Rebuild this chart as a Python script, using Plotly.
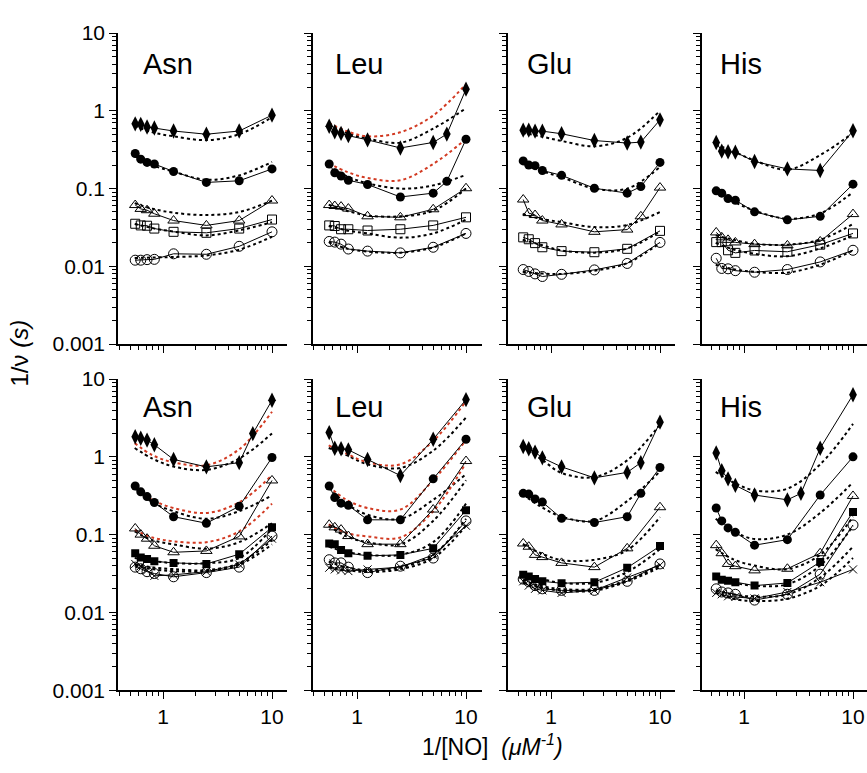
import plotly.graph_objects as go

W, H = 867, 773

# ---------------- data ----------------
X8 = [0.556, 0.625, 0.714, 0.833, 1.25, 2.5, 5, 10]
X9 = [0.556, 0.625, 0.714, 0.833, 1.25, 2.5, 5, 6.67, 10]
X9H = [0.556, 0.625, 0.714, 0.833, 1.25, 2.5, 3.33, 5, 10]
FX = [0.55, 0.8, 1.25, 2.5, 5, 10]

panel_names = ["Asn", "Leu", "Glu", "His", "Asn", "Leu", "Glu", "His"]

# --- top row ---
asn1_dia = [0.68, 0.67, 0.62, 0.60, 0.55, 0.50, 0.55, 0.88]
asn1_cir = [0.283, 0.239, 0.217, 0.207, 0.166, 0.12, 0.126, 0.179]
asn1_tri = [0.0614, 0.0548, 0.0527, 0.0475, 0.0388, 0.0336, 0.0388, 0.0702]
asn1_sq = [0.0353, 0.0336, 0.0333, 0.0306, 0.0278, 0.027, 0.0306, 0.04]
asn1_oc = [0.012, 0.012, 0.0122, 0.0123, 0.0145, 0.0143, 0.0181, 0.0278]
asn1_fit_dia = [0.64, 0.53, 0.47, 0.42, 0.50, 0.83]
asn1_fit_cir = [0.26, 0.2, 0.165, 0.13, 0.148, 0.22]
asn1_fit_tri = [0.065, 0.055, 0.049, 0.0457, 0.05, 0.07]
asn1_fit_sq = [0.035, 0.031, 0.028, 0.025, 0.029, 0.037]
asn1_fit_oc = [0.0128, 0.013, 0.0132, 0.0138, 0.0164, 0.024]

leu1_dia = [0.632, 0.537, 0.512, 0.479, 0.423, 0.333, 0.392, 0.502, 1.90]
leu1_cir = [0.207, 0.16, 0.145, 0.128, 0.113, 0.078, 0.0874, 0.124, 0.431]
leu1_tri = [0.0614, 0.0597, 0.0586, 0.0553, 0.044, 0.0427, 0.0542, 0.101]
leu1_sq = [0.0336, 0.033, 0.030, 0.030, 0.0289, 0.030, 0.0336, 0.0427]
leu1_oc = [0.0209, 0.0205, 0.0193, 0.0167, 0.0157, 0.0149, 0.0176, 0.0265]
leu1_red_dia = [0.70, 0.55, 0.47, 0.53, 0.87, 2.21]
leu1_fit_dia = [0.68, 0.52, 0.44, 0.39, 0.59, 1.08]
leu1_red_cir = [0.213, 0.165, 0.137, 0.128, 0.207, 0.435]
leu1_fit_cir = [0.197, 0.145, 0.117, 0.10, 0.11, 0.15]
leu1_fit_tri = [0.062, 0.052, 0.045, 0.044, 0.052, 0.1]
leu1_fit_sq = [0.033, 0.029, 0.0265, 0.0234, 0.0265, 0.04]
leu1_fit_oc = [0.0205, 0.017, 0.0155, 0.015, 0.0175, 0.0265]

glu1_dia = [0.564, 0.564, 0.548, 0.548, 0.507, 0.415, 0.385, 0.396, 0.765]
glu1_cir = [0.227, 0.201, 0.197, 0.171, 0.148, 0.101, 0.0874, 0.106, 0.217]
glu1_tri = [0.0723, 0.0484, 0.0457, 0.0388, 0.0346, 0.0278, 0.0297, 0.044, 0.103]
glu1_sq = [0.0236, 0.0223, 0.0199, 0.0176, 0.0157, 0.0152, 0.0168, 0.0286]
glu1_oc = [0.0091, 0.0086, 0.0080, 0.0074, 0.0079, 0.009, 0.0109, 0.0203]
glu1_fit_dia = [0.52, 0.47, 0.41, 0.35, 0.45, 1.0]
glu1_fit_cir = [0.21, 0.17, 0.14, 0.1, 0.1, 0.19]
glu1_fit_tri = [0.047, 0.041, 0.037, 0.032, 0.034, 0.05]
glu1_fit_sq = [0.022, 0.019, 0.016, 0.015, 0.017, 0.028]
glu1_fit_oc = [0.0085, 0.0081, 0.008, 0.0088, 0.011, 0.02]

his1_dia = [0.392, 0.303, 0.297, 0.294, 0.223, 0.179, 0.171, 0.553]
his1_cir = [0.0935, 0.0874, 0.0743, 0.0709, 0.0502, 0.0396, 0.044, 0.114]
his1_tri = [0.0273, 0.0236, 0.0219, 0.0203, 0.0193, 0.0186, 0.0209, 0.047]
his1_sq = [0.0205, 0.0205, 0.0161, 0.0149, 0.016, 0.0154, 0.019, 0.0265]
his1_oc = [0.0127, 0.0094, 0.0093, 0.0088, 0.0084, 0.0091, 0.0114, 0.0161]
his1_fit_dia = [0.37, 0.30, 0.23, 0.175, 0.27, 0.52]
his1_fit_cir = [0.092, 0.068, 0.052, 0.041, 0.048, 0.09]
his1_fit_tri = [0.025, 0.022, 0.0195, 0.019, 0.022, 0.035]
his1_fit_sq = [0.02, 0.0165, 0.0145, 0.0135, 0.017, 0.025]
his1_fit_oc = [0.0105, 0.0092, 0.0085, 0.0083, 0.0105, 0.016]

# --- bottom row ---
asn2_dia = [1.81, 1.73, 1.64, 1.43, 0.926, 0.743, 0.842, 1.99, 5.34]
asn2_cir = [0.422, 0.355, 0.308, 0.259, 0.170, 0.14, 0.231, 0.98]
asn2_tri = [0.12, 0.1, 0.0887, 0.0719, 0.0593, 0.0617, 0.0948, 0.497]
asn2_fsq = [0.0577, 0.0509, 0.0485, 0.0454, 0.0433, 0.042, 0.056, 0.124]
asn2_oc = [0.0382, 0.0364, 0.0334, 0.0316, 0.0287, 0.0325, 0.0382, 0.0958]
asn2_xx = [0.0420, 0.0393, 0.0347, 0.0295, 0.0304, 0.0334, 0.0413, 0.0887]
asn2_red_dia = [1.5, 1.05, 0.85, 0.78, 1.25, 3.8]
asn2_fit_dia = [1.3, 0.95, 0.75, 0.68, 0.95, 2.0]
asn2_red_cir = [0.42, 0.28, 0.22, 0.19, 0.26, 0.58]
asn2_fit_cir = [0.40, 0.26, 0.2, 0.16, 0.2, 0.32]
asn2_red_tri = [0.115, 0.092, 0.082, 0.08, 0.11, 0.25]
asn2_fit_tri = [0.11, 0.085, 0.075, 0.066, 0.08, 0.14]
asn2_fit_fsq = [0.05, 0.046, 0.043, 0.043, 0.05, 0.12]
asn2_fit_oc = [0.042, 0.038, 0.036, 0.035, 0.043, 0.085]
asn2_fit_xx = [0.04, 0.036, 0.034, 0.034, 0.041, 0.075]

leu2_dia = [2.05, 1.29, 1.27, 1.23, 0.926, 0.574, 1.68, 5.44]
leu2_cir = [0.422, 0.299, 0.254, 0.238, 0.155, 0.155, 0.521, 1.68]
leu2_tri = [0.134, 0.124, 0.116, 0.0958, 0.0754, 0.0754, 0.21, 0.883]
leu2_fsq = [0.0769, 0.0754, 0.0634, 0.0577, 0.0534, 0.0549, 0.0666, 0.206]
leu2_oc = [0.0476, 0.0433, 0.0433, 0.0382, 0.0325, 0.0393, 0.05, 0.150]
leu2_xx = [0.0375, 0.0357, 0.0347, 0.034, 0.0357, 0.0382, 0.0549, 0.130]
leu2_red_dia = [1.4, 1.1, 0.85, 0.8, 1.6, 5.2]
leu2_fit_dia = [1.3, 1.05, 0.8, 0.72, 1.2, 3.2]
leu2_red_cir = [0.42, 0.28, 0.22, 0.21, 0.5, 1.65]
leu2_fit_cir = [0.40, 0.25, 0.18, 0.16, 0.28, 0.6]
leu2_red_tri = [0.135, 0.105, 0.095, 0.092, 0.2, 0.84]
leu2_fit_tri = [0.13, 0.095, 0.08, 0.075, 0.15, 0.5]
leu2_fit_fsq = [0.07, 0.06, 0.055, 0.055, 0.08, 0.25]
leu2_fit_oc = [0.045, 0.038, 0.035, 0.038, 0.055, 0.16]
leu2_fit_xx = [0.038, 0.035, 0.033, 0.036, 0.05, 0.13]

glu2_dia = [1.36, 1.27, 1.15, 0.97, 0.743, 0.537, 0.631, 0.842, 2.79]
glu2_cir = [0.339, 0.332, 0.288, 0.262, 0.162, 0.143, 0.170, 0.339, 0.729]
glu2_tri = [0.0769, 0.0699, 0.0549, 0.0514, 0.0433, 0.0382, 0.0666, 0.225]
glu2_fsq = [0.0304, 0.029, 0.0268, 0.0251, 0.0237, 0.0244, 0.0375, 0.0712]
glu2_oc = [0.0268, 0.0248, 0.0221, 0.0201, 0.0192, 0.0192, 0.0251, 0.042]
glu2_xx = [0.0251, 0.0221, 0.0201, 0.0192, 0.0178, 0.0192, 0.0281, 0.0405]
glu2_fit_dia = [1.3, 0.95, 0.62, 0.55, 0.9, 2.6]
glu2_fit_cir = [0.33, 0.23, 0.17, 0.15, 0.27, 0.65]
glu2_fit_tri = [0.075, 0.058, 0.047, 0.0475, 0.063, 0.168]
glu2_fit_fsq = [0.03, 0.027, 0.024, 0.024, 0.033, 0.065]
glu2_fit_oc = [0.026, 0.022, 0.02, 0.02, 0.026, 0.04]
glu2_fit_xx = [0.024, 0.021, 0.019, 0.019, 0.025, 0.038]

his2_dia = [1.12, 0.663, 0.521, 0.43, 0.323, 0.28, 0.339, 1.29, 6.29]
his2_cir = [0.22, 0.15, 0.122, 0.107, 0.0732, 0.0862, 0.323, 1.0]
his2_tri = [0.0732, 0.0577, 0.042, 0.0393, 0.0347, 0.0364, 0.0577, 0.314]
his2_fsq = [0.029, 0.0263, 0.0255, 0.0244, 0.0221, 0.0239, 0.0445, 0.196]
his2_oc = [0.0201, 0.0183, 0.0178, 0.0171, 0.0144, 0.0171, 0.031, 0.133]
his2_xx = [0.0178, 0.0171, 0.0161, 0.0158, 0.0151, 0.0183, 0.0244, 0.0357]
his2_fit_dia = [0.64, 0.47, 0.37, 0.39, 0.8, 2.65]
his2_fit_cir = [0.16, 0.11, 0.088, 0.1, 0.19, 0.47]
his2_fit_tri = [0.065, 0.048, 0.04, 0.036, 0.055, 0.17]
his2_fit_fsq = [0.027, 0.024, 0.022, 0.023, 0.04, 0.13]
his2_fit_oc = [0.019, 0.017, 0.016, 0.017, 0.028, 0.07]
his2_fit_xx = [0.018, 0.015, 0.014, 0.015, 0.022, 0.05]

# panel contents: (marker kind, x, y) and fits (color, y)
panels = [
    dict(data=[("dia", X8, asn1_dia), ("cir", X8, asn1_cir), ("tri", X8, asn1_tri),
               ("sq", X8, asn1_sq), ("oc", X8, asn1_oc)],
         fits=[("k", asn1_fit_dia), ("k", asn1_fit_cir), ("k", asn1_fit_tri),
               ("k", asn1_fit_sq), ("k", asn1_fit_oc)]),
    dict(data=[("dia", X9, leu1_dia), ("cir", X9, leu1_cir), ("tri", X8, leu1_tri),
               ("sq", X8, leu1_sq), ("oc", X8, leu1_oc)],
         fits=[("k", leu1_fit_dia), ("r", leu1_red_dia), ("k", leu1_fit_cir), ("r", leu1_red_cir),
               ("k", leu1_fit_tri), ("k", leu1_fit_sq), ("k", leu1_fit_oc)]),
    dict(data=[("dia", X9, glu1_dia), ("cir", X9, glu1_cir), ("tri", X9, glu1_tri),
               ("sq", X8, glu1_sq), ("oc", X8, glu1_oc)],
         fits=[("k", glu1_fit_dia), ("k", glu1_fit_cir), ("k", glu1_fit_tri),
               ("k", glu1_fit_sq), ("k", glu1_fit_oc)]),
    dict(data=[("dia", X8, his1_dia), ("cir", X8, his1_cir), ("tri", X8, his1_tri),
               ("sq", X8, his1_sq), ("oc", X8, his1_oc)],
         fits=[("k", his1_fit_dia), ("k", his1_fit_cir), ("k", his1_fit_tri),
               ("k", his1_fit_sq), ("k", his1_fit_oc)]),
    dict(data=[("dia", X9, asn2_dia), ("cir", X8, asn2_cir), ("tri", X8, asn2_tri),
               ("fsq", X8, asn2_fsq), ("oc", X8, asn2_oc), ("xx", X8, asn2_xx)],
         fits=[("k", asn2_fit_dia), ("r", asn2_red_dia), ("k", asn2_fit_cir), ("r", asn2_red_cir),
               ("k", asn2_fit_tri), ("r", asn2_red_tri), ("k", asn2_fit_fsq),
               ("k", asn2_fit_oc), ("k", asn2_fit_xx)]),
    dict(data=[("dia", X8, leu2_dia), ("cir", X8, leu2_cir), ("tri", X8, leu2_tri),
               ("fsq", X8, leu2_fsq), ("oc", X8, leu2_oc), ("xx", X8, leu2_xx)],
         fits=[("k", leu2_fit_dia), ("r", leu2_red_dia), ("k", leu2_fit_cir), ("r", leu2_red_cir),
               ("k", leu2_fit_tri), ("r", leu2_red_tri), ("k", leu2_fit_fsq),
               ("k", leu2_fit_oc), ("k", leu2_fit_xx)]),
    dict(data=[("dia", X9, glu2_dia), ("cir", X9, glu2_cir), ("tri", X8, glu2_tri),
               ("fsq", X8, glu2_fsq), ("oc", X8, glu2_oc), ("xx", X8, glu2_xx)],
         fits=[("k", glu2_fit_dia), ("k", glu2_fit_cir), ("k", glu2_fit_tri),
               ("k", glu2_fit_fsq), ("k", glu2_fit_oc), ("k", glu2_fit_xx)]),
    dict(data=[("dia", X9H, his2_dia), ("cir", X8, his2_cir), ("tri", X8, his2_tri),
               ("fsq", X8, his2_fsq), ("oc", X8, his2_oc), ("xx", X8, his2_xx)],
         fits=[("k", his2_fit_dia), ("k", his2_fit_cir), ("k", his2_fit_tri),
               ("k", his2_fit_fsq), ("k", his2_fit_oc), ("k", his2_fit_xx)]),
]

Y_TICKS = [0.001, 0.01, 0.1, 1, 10]
Y_TICKTEXT = ["0.001", "0.01", "0.1", "1", "10"]
X_TICKS = [1, 10]
X_TICKTEXT = ["1", "10"]

# ---------------- styles / layout geometry ----------------
FONT = "Liberation Sans, Arial, Helvetica, sans-serif"
RED = "#d23a22"
MSTY = {
    "dia": dict(symbol="diamond-tall", size=11, color="black", line=dict(width=0)),
    "cir": dict(symbol="circle", size=9, color="black", line=dict(width=0)),
    "tri": dict(symbol="triangle-up-open", size=10, color="black", line=dict(width=1, color="black")),
    "sq": dict(symbol="square-open", size=9, color="black", line=dict(width=1, color="black")),
    "fsq": dict(symbol="square", size=8, color="black", line=dict(width=0)),
    "oc": dict(symbol="circle-open", size=10, color="black", line=dict(width=1, color="black")),
    "xx": dict(symbol="x-thin-open", size=8, color="black", line=dict(width=1, color="black")),
}

col_left = [118, 313, 508, 702]
col_right = [287, 482, 675, 867]
col_one = [163, 357, 551, 744]   # pixel of x=1
decade = 109.0
row_top = [21.7, 378.3]
row_bot = [342.3, 699.0]

minor_x = [v * m for v in (0.1, 1) for m in range(2, 10)]
minor_y = [v * m for v in (0.001, 0.01, 0.1, 1) for m in range(2, 10)]

fig = go.Figure()
layout = dict(
    width=W, height=H, margin=dict(l=0, r=0, t=0, b=0),
    paper_bgcolor="white", plot_bgcolor="white", showlegend=False,
    font=dict(family=FONT, color="black"),
)

for i, p in enumerate(panels):
    r, c = divmod(i, 4)
    n = i + 1
    xa = "x" if n == 1 else f"x{n}"
    ya = "y" if n == 1 else f"y{n}"
    for color, fy in p["fits"]:
        fig.add_trace(go.Scatter(
            x=FX, y=fy, xaxis=xa, yaxis=ya, mode="lines",
            line=dict(color="black" if color == "k" else RED, width=2, dash="dot", shape="spline"),
            hoverinfo="skip"))
    for kind, xs, ys in p["data"]:
        fig.add_trace(go.Scatter(
            x=xs, y=ys, xaxis=xa, yaxis=ya, mode="lines+markers",
            line=dict(color="black", width=1), marker=MSTY[kind]))

    lo = (col_left[c] - col_one[c]) / decade
    hi = (col_right[c] - col_one[c]) / decade
    layout["xaxis" if n == 1 else f"xaxis{n}"] = dict(
        type="log", range=[lo, hi],
        domain=[col_left[c] / W, col_right[c] / W],
        anchor=ya, showgrid=False, zeroline=False,
        showline=True, linecolor="black", linewidth=1.5,
        ticks="outside", ticklen=7, tickwidth=1.3, tickcolor="black",
        tickmode="array", tickvals=X_TICKS, ticktext=X_TICKTEXT,
        showticklabels=(r == 1), tickfont=dict(size=21, family=FONT),
        minor=dict(tickmode="array", tickvals=minor_x, ticks="outside",
                   ticklen=4, tickwidth=1, tickcolor="black"),
    )
    layout["yaxis" if n == 1 else f"yaxis{n}"] = dict(
        type="log", range=[-3, 1],
        domain=[1 - row_bot[r] / H, 1 - row_top[r] / H],
        anchor=xa, showgrid=False, zeroline=False,
        showline=True, linecolor="black", linewidth=1.5,
        ticks="outside", ticklen=7, tickwidth=1.3, tickcolor="black",
        tickmode="array", tickvals=Y_TICKS, ticktext=Y_TICKTEXT,
        showticklabels=(c == 0), tickfont=dict(size=21, family=FONT),
        minor=dict(tickmode="array", tickvals=minor_y, ticks="outside",
                   ticklen=4, tickwidth=1, tickcolor="black"),
    )

title_x = [141, 333, 525, 718]
title_y = [54, 407]
ann = []
for i, name in enumerate(panel_names):
    r, c = divmod(i, 4)
    ann.append(dict(text=name, x=title_x[c] / W, y=1 - title_y[r] / H,
                    xref="paper", yref="paper", xanchor="left", yanchor="middle",
                    showarrow=False, font=dict(size=29, family=FONT)))
ann.append(dict(text="1/ν <i>(s)</i>", x=20 / W, y=1 - 352 / H, xref="paper", yref="paper",
                textangle=-90, showarrow=False, xanchor="center", yanchor="middle",
                font=dict(size=24, family=FONT)))
ann.append(dict(text="1/[NO]  <i>(μM<sup>-1</sup>)</i>", x=492 / W, y=1 - 755 / H,
                xref="paper", yref="paper", showarrow=False, xanchor="center", yanchor="middle",
                font=dict(size=23, family=FONT)))
layout["annotations"] = ann
fig.update_layout(**layout)
fig.write_html("out.html")
